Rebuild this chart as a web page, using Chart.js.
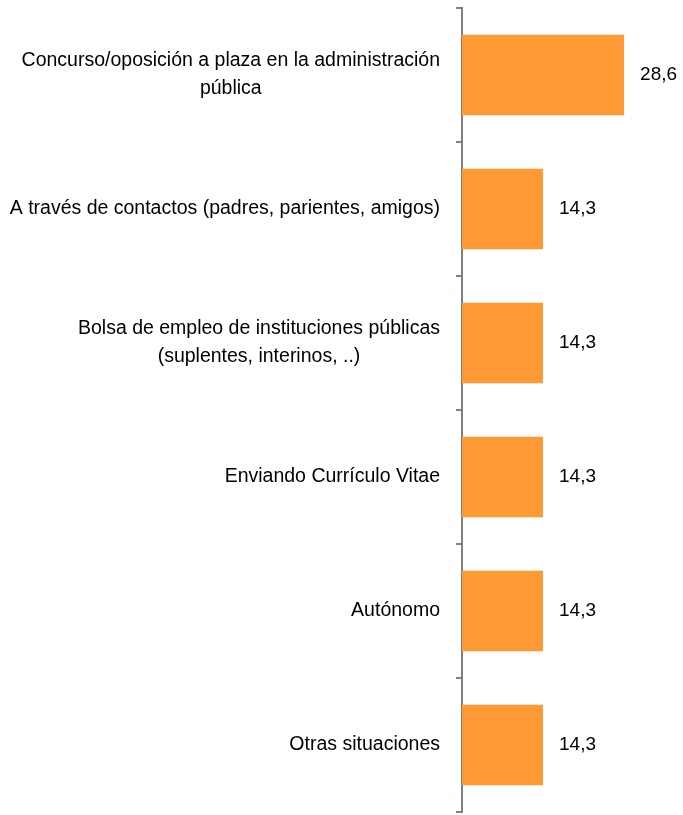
<!DOCTYPE html>
<html>
<head>
<meta charset="utf-8">
<script src="https://cdn.jsdelivr.net/npm/chart.js@4/dist/chart.umd.min.js"></script>
<style>
  html, body { margin: 0; padding: 0; background: #fff; }
  #wrap { width: 683px; height: 815px; }
</style>
</head>
<body>
<div id="wrap"><canvas id="canvas"></canvas></div>
<script>
// categorias (cada linea en un elemento)
var categorias = [
    ['Concurso/oposición a plaza en la administración', 'pública'],
    ['A través de contactos (padres, parientes, amigos)'],
    ['Bolsa de empleo de instituciones públicas', '(suplentes, interinos, ..)'],
    ['Enviando Currículo Vitae'],
    ['Autónomo'],
    ['Otras situaciones']
];
// porcentajes
var valores = [28.6, 14.3, 14.3, 14.3, 14.3, 14.3];

var fuente = '"Liberation Sans", Arial, sans-serif';

// etiquetas del eje y: bloque alineado a la derecha, lineas centradas
var etiquetasY = {
    id: 'etiquetasY',
    afterDraw: function(chart) {
        var ctx = chart.ctx;
        var y = chart.scales.y;
        var derecha = y.right - 22;
        var alto = 28;
        ctx.save();
        ctx.font = '19.5px ' + fuente;
        ctx.fillStyle = '#000';
        ctx.textAlign = 'center';
        ctx.textBaseline = 'middle';
        for (var i = 0; i < categorias.length; i++) {
            var lineas = categorias[i];
            var ancho = 0;
            for (var j = 0; j < lineas.length; j++)
                ancho = Math.max(ancho, ctx.measureText(lineas[j]).width);
            var cy = y.getPixelForValue(i);
            var y0 = cy - (lineas.length - 1) * alto / 2;
            for (var j = 0; j < lineas.length; j++)
                ctx.fillText(lineas[j], derecha - ancho / 2, y0 + j * alto);
        }
        ctx.restore();
    }
};

// valores al final de cada barra
var etiquetasValor = {
    id: 'etiquetasValor',
    afterDatasetsDraw: function(chart) {
        var ctx = chart.ctx;
        var meta = chart.getDatasetMeta(0);
        ctx.save();
        ctx.font = '19px ' + fuente;
        ctx.fillStyle = '#000';
        ctx.textAlign = 'left';
        ctx.textBaseline = 'middle';
        meta.data.forEach(function(bar, i) {
            ctx.fillText(valores[i].toFixed(1).replace('.', ','), bar.x + 16, bar.y);
        });
        ctx.restore();
    }
};

var ctx = document.getElementById('canvas').getContext('2d');
new Chart(ctx, {
    type: 'bar',
    data: {
        labels: categorias,
        datasets: [{
            data: valores,
            backgroundColor: '#FF9933',
            borderWidth: 0,
            barPercentage: 0.6,
            categoryPercentage: 1
        }]
    },
    options: {
        indexAxis: 'y',
        responsive: true,
        maintainAspectRatio: false,
        animation: false,
        layout: { padding: { top: 8, bottom: 3, left: 0, right: 51 } },
        plugins: {
            legend: { display: false },
            tooltip: { enabled: false }
        },
        scales: {
            x: {
                display: false,
                min: 0,
                max: 30
            },
            y: {
                afterFit: function(scale) { scale.width = 462; },
                grid: {
                    drawOnChartArea: false,
                    drawTicks: true,
                    tickLength: 6,
                    color: '#808080',
                    lineWidth: 2,
                    offset: true
                },
                border: { display: true, color: '#808080', width: 2 },
                ticks: { display: false }
            }
        }
    },
    plugins: [etiquetasY, etiquetasValor]
});
</script>
</body>
</html>
